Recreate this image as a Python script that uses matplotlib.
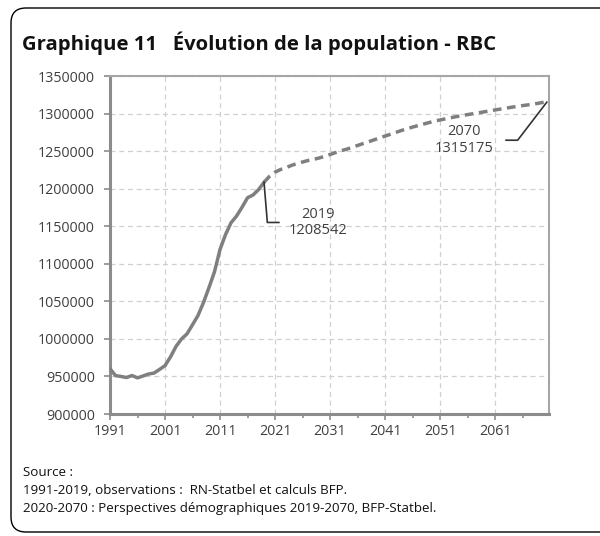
import matplotlib
matplotlib.use("Agg")
import matplotlib.pyplot as plt
from matplotlib.patches import FancyBboxPatch
from matplotlib.ticker import FixedLocator

# ---- data ----
obs_years = list(range(1991, 2020))
obs_values = [960300, 951100, 950000, 948600, 951200, 948100, 950600, 953200,
              954500, 959300, 964400, 976000, 990000, 999900, 1006700, 1018800,
              1031200, 1048500, 1068500, 1089500, 1119100, 1138900, 1154600,
              1163500, 1175200, 1187900, 1191600, 1198700, 1208542]

proj_years = list(range(2019, 2071))
proj_values = [1208542, 1216500, 1222000, 1225500, 1228000, 1231000, 1233500,
               1235500, 1237500, 1239000, 1240800, 1243000, 1245500, 1248000,
               1250500, 1252500, 1255000, 1257500, 1260000, 1262500, 1265000,
               1267500, 1270000, 1272500, 1275000, 1277500, 1279800, 1282000,
               1284000, 1286000, 1288000, 1290000, 1291500, 1293000, 1294500,
               1296000, 1297300, 1298600, 1299800, 1301000, 1302300, 1303500,
               1304800, 1306000, 1307200, 1308400, 1309500, 1310600, 1311600,
               1312600, 1313900, 1315175]

x_ticks = [1991, 2001, 2011, 2021, 2031, 2041, 2051, 2061]
y_ticks = list(range(900000, 1350001, 50000))

title = "Graphique 11   Évolution de la population - RBC"
source_lines = ["Source :",
                "1991-2019, observations :  RN-Statbel et calculs BFP.",
                "2020-2070 : Perspectives démographiques 2019-2070, BFP-Statbel."]

FONT = ["Open Sans", "DejaVu Sans"]
plt.rcParams["font.family"] = FONT

W, H = 600, 536
fig = plt.figure(figsize=(W / 100, H / 100), dpi=100)
fig.patch.set_facecolor("white")

# outer rounded frame
frame = FancyBboxPatch((11 / W, 4 / H), (W + 20) / W, (H - 12) / H,
                       boxstyle="round,pad=0,rounding_size=0.025",
                       transform=fig.transFigure, fill=False,
                       edgecolor="black", linewidth=1.0, mutation_aspect=W / H)
fig.patches.append(frame)

fig.text(22 / W, 1 - 50 / H, title, fontsize=14.6, fontweight="bold",
         color="#111111", va="baseline", ha="left")

ax = fig.add_axes([110 / W, 1 - 414 / H, (549 - 110) / W, (414 - 76) / H])
ax.set_xlim(1991, 2070.8)
ax.set_ylim(900000, 1350000)

line_col = "#7f7f7f"
ax.plot(obs_years, obs_values, color=line_col, linewidth=2.5,
        solid_capstyle="round", solid_joinstyle="round", zorder=3)
ax.plot(proj_years, proj_values, color=line_col, linewidth=2.5,
        linestyle=(0, (2.5, 1.6)), dash_capstyle="butt", zorder=3)

ax.xaxis.set_major_locator(FixedLocator(x_ticks))
ax.xaxis.set_minor_locator(FixedLocator([1996, 2006, 2016, 2026, 2036, 2046, 2056, 2066]))
ax.yaxis.set_major_locator(FixedLocator(y_ticks))
ax.set_xticklabels([str(t) for t in x_ticks])
ax.set_yticklabels([str(t) for t in y_ticks])

ax.grid(True, which="major", color="#d0d0d0", linestyle=(0, (4, 3)), linewidth=0.9)
ax.set_axisbelow(True)

for side in ["left", "bottom"]:
    ax.spines[side].set_color("#8c8c8c")
    ax.spines[side].set_linewidth(2.2)
for side in ["top", "right"]:
    ax.spines[side].set_color("#a6a6a6")
    ax.spines[side].set_linewidth(1.5)

ax.tick_params(axis="both", which="major", length=4, width=1.2, color="#8c8c8c",
               labelsize=10.3, labelcolor="#404040")
ax.tick_params(axis="x", which="major", pad=3)
ax.tick_params(axis="y", which="major", pad=7)
ax.tick_params(axis="x", which="minor", length=3, width=1.2, color="#8c8c8c")

# annotations
ax.plot([2019, 2019.6, 2021.7], [1208542, 1155000, 1155000],
        color="#333333", lw=1.2, zorder=4)
ax.text(2028.8, 1155000, "2019\n1208542", ha="center", va="center",
        fontsize=10.5, color="#404040", linespacing=1.15)

ax.plot([2063.0, 2065.1, 2070.4], [1264500, 1264500, 1315175],
        color="#333333", lw=1.2, zorder=4)
ax.text(2055.3, 1264500, "2070\n1315175", ha="center", va="center",
        fontsize=10.5, color="#404040", linespacing=1.15)

for i, line in enumerate(source_lines):
    fig.text(23 / W, 1 - (473 + 17.8 * i) / H, line, fontsize=9.6, color="#111111",
             va="center", ha="left")

fig.savefig("out.png", dpi=100)
